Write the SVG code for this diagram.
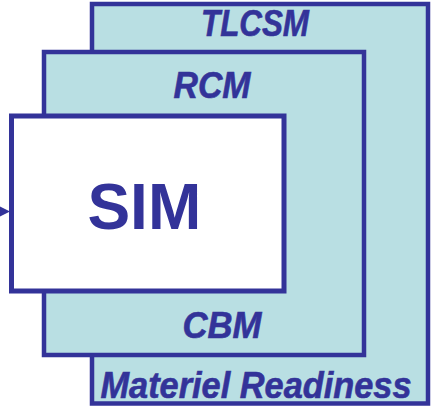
<svg xmlns="http://www.w3.org/2000/svg" width="435" height="406" viewBox="0 0 435 406">
<style>
.box{fill:#B9DFE3;stroke:#333399;stroke-width:4.5}
.inner{fill:#FFFFFF;stroke:#333399;stroke-width:5}
.lbl{font-family:"Liberation Sans",Arial,sans-serif;font-weight:bold;font-style:italic;font-size:36px;fill:#333399;stroke:#333399;stroke-width:0.6;text-anchor:middle}
.big{font-family:"Liberation Sans",Arial,sans-serif;font-weight:bold;font-size:64px;fill:#333399;text-anchor:middle}
</style>
<rect width="435" height="406" fill="#FFFFFF"/>
<g id="tlcsm">
<rect class="box" x="92" y="4" width="336" height="399.5"/>
<text class="lbl" x="255" y="36" textLength="108" lengthAdjust="spacingAndGlyphs">TLCSM</text>
<text class="lbl" x="256" y="397.5" textLength="311" lengthAdjust="spacingAndGlyphs">Materiel Readiness</text>
</g>
<g id="rcm">
<rect class="box" x="44" y="52" width="320" height="303"/>
<text class="lbl" x="212" y="98.3" textLength="77" lengthAdjust="spacingAndGlyphs">RCM</text>
<text class="lbl" x="222" y="338" textLength="79" lengthAdjust="spacingAndGlyphs">CBM</text>
</g>
<g id="sim">
<rect class="inner" x="11.5" y="116" width="272.5" height="175"/>
<text class="big" x="144.3" y="229">SIM</text>
</g>
<g id="connectors">
<polygon points="-2,205.5 10,211.5 -2,217.5" fill="#333399"/>
</g>
</svg>
